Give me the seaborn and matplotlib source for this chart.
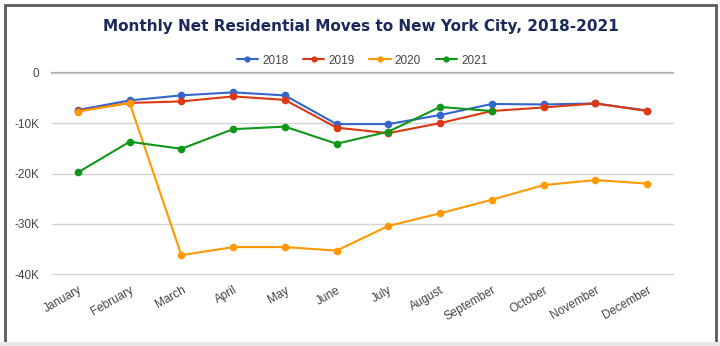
import matplotlib
matplotlib.use("Agg")
import matplotlib.pyplot as plt
import seaborn as sns
import numpy as np
import pandas as pd
from matplotlib.patches import Rectangle
from matplotlib.ticker import FuncFormatter
from matplotlib.lines import Line2D

months = ["January", "February", "March", "April", "May", "June", "July",
          "August", "September", "October", "November", "December"]
v2018 = [-7400, -5500, -4500, -3900, -4500, -10200, -10200, -8400, -6200, -6300, -6100, -7500]
v2019 = [-7600, -6000, -5700, -4700, -5400, -10900, -12000, -10000, -7600, -6900, -6100, -7600]
v2020 = [-7700, -6000, -36200, -34600, -34600, -35300, -30400, -27900, -25200, -22300, -21300, -22000]
v2021 = [-19800, -13700, -15100, -11200, -10700, -14100, -11700, -6800, -7600, np.nan, np.nan, np.nan]
years = ["2018", "2019", "2020", "2021"]
colors = ["#3366cc", "#dc3912", "#ff9900", "#109618"]
yticks = [0, -10000, -20000, -30000, -40000]

rows = []
for yr, vals in zip(years, [v2018, v2019, v2020, v2021]):
    for i, (m, v) in enumerate(zip(months, vals)):
        if not np.isnan(v):
            rows.append({"idx": i, "month": m, "year": yr, "value": v})
df = pd.DataFrame(rows)

sns.set_theme(style="white")
plt.rcParams["font.family"] = ["Liberation Sans", "DejaVu Sans"]

fig = plt.figure(figsize=(7.2, 3.46), dpi=100)
ax = fig.add_axes([52 / 720, 1 - 274.3 / 346, (673 - 52) / 720, (274.3 - 72.7) / 346])

sns.lineplot(data=df, x="idx", y="value", hue="year", hue_order=years,
             palette=colors, marker="o", markersize=5.5, markeredgewidth=0,
             linewidth=1.5, ax=ax, legend=False)

ax.set_xlim(-0.5, 11.5)
ax.set_ylim(-40000, 0)
ax.set_yticks(yticks)
ax.yaxis.set_major_formatter(FuncFormatter(lambda v, p: "0" if v == 0 else "-%dK" % int(abs(v) / 1000)))
ax.set_xticks(range(len(months)))
ax.set_xticklabels(months, rotation=30, ha="right", rotation_mode="anchor")
ax.tick_params(axis="both", length=0, labelsize=8.5, colors="#444444")
ax.tick_params(axis="y", pad=9)
ax.tick_params(axis="x", pad=7)
ax.set_xlabel("")
ax.set_ylabel("")
for s in ax.spines.values():
    s.set_visible(False)
ax.grid(axis="y", color="#d4d4d4", linewidth=1.0)
ax.grid(axis="x", visible=False)
for gl in ax.get_ygridlines():
    gl.set_clip_on(False)
ax.axhline(0, color="#a0a0a0", linewidth=1.6, zorder=0.5, clip_on=False)
for line in ax.lines[:4]:
    line.set_clip_on(False)

handles = [Line2D([], [], color=c, marker="o", markersize=4.5, markeredgewidth=0, linewidth=1.5) for c in colors]
leg = fig.legend(handles, years, loc="center", bbox_to_anchor=(362 / 720, 1 - 60.5 / 346),
                 ncol=4, frameon=False, fontsize=8.5, handlelength=1.8,
                 handletextpad=0.35, columnspacing=1.25, borderaxespad=0)
for t in leg.get_texts():
    t.set_color("#444444")

fig.text(361 / 720, 1 - 27 / 346, "Monthly Net Residential Moves to New York City, 2018-2021",
         ha="center", va="center", fontsize=11, fontweight="bold", color="#1b2a5c",
         family=["DejaVu Sans"])

fig.patches.append(Rectangle((4.5 / 720, 0.0), (715.5 - 4.5) / 720, 1 - 4.5 / 346,
                             transform=fig.transFigure, fill=False,
                             edgecolor="#5a5a5a", linewidth=2.0))
fig.patches.append(Rectangle((0, 0), 1, 4 / 346, transform=fig.transFigure,
                             facecolor="#e6e6e6", edgecolor="none"))

fig.savefig("out.png", dpi=100)
